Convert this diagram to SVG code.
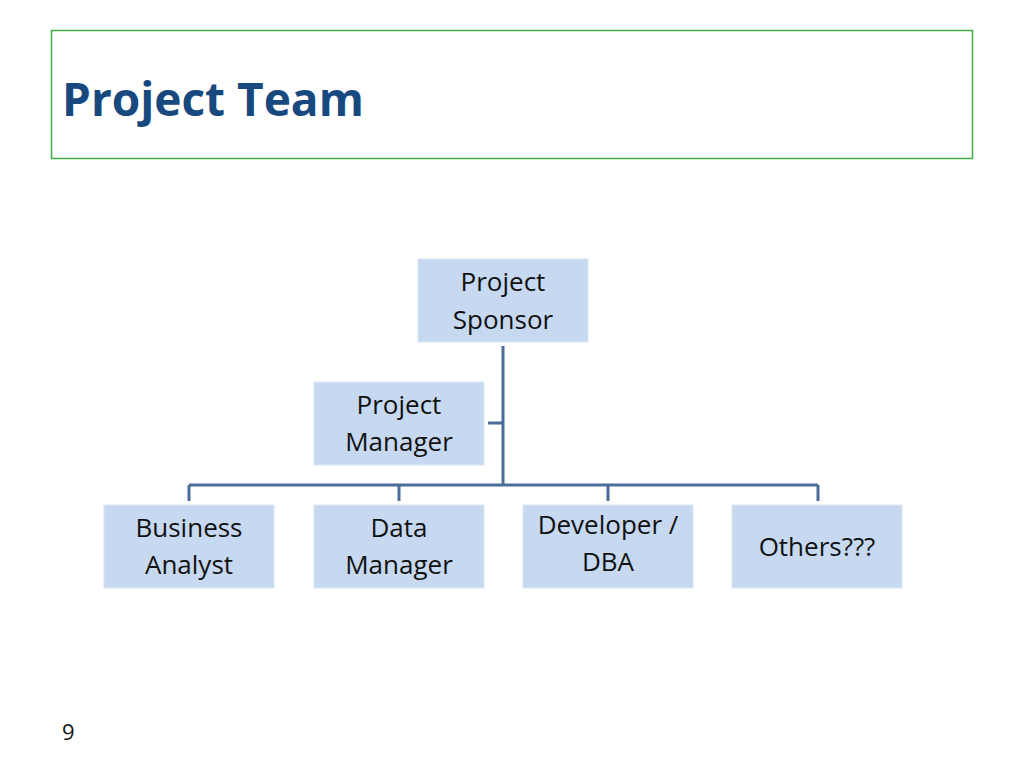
<svg xmlns="http://www.w3.org/2000/svg" width="1024" height="768" viewBox="0 0 1024 768">
<style>
.box{fill:#c6d9f0;stroke:#dbe6f4;stroke-width:1}
.t{font-family:"Open Sans","Liberation Sans",sans-serif;font-size:26px;fill:#111;text-anchor:middle}
.c{stroke:#4a6d9a;stroke-width:3;fill:none}
</style>
<rect width="1024" height="768" fill="#fff"/>
<rect x="51.5" y="30.5" width="921" height="128" fill="none" stroke="#3fae49" stroke-width="1.5"/>
<text x="62" y="116" font-family="'Open Sans','Liberation Sans',sans-serif" font-weight="bold" font-size="46" fill="#17497f">Project Team</text>
<text x="62" y="740" font-family="'Open Sans','Liberation Sans',sans-serif" font-size="22" fill="#111">9</text>
<g id="connectors">
<path class="c" d="M503,346V485M488,423H503M189,485H818M189,485V501M399,485V501M608,485V501M818,485V501"/>
</g>
<g id="sponsor"><rect class="box" x="418" y="259" width="170" height="83"/><text class="t" x="503" y="291">Project</text><text class="t" x="503" y="329">Sponsor</text></g>
<g id="manager"><rect class="box" x="314" y="382" width="170" height="83"/><text class="t" x="399" y="414">Project</text><text class="t" x="399" y="451">Manager</text></g>
<g id="ba"><rect class="box" x="104" y="505" width="170" height="83"/><text class="t" x="189" y="537">Business</text><text class="t" x="189" y="574">Analyst</text></g>
<g id="dm"><rect class="box" x="314" y="505" width="170" height="83"/><text class="t" x="399" y="537">Data</text><text class="t" x="399" y="574">Manager</text></g>
<g id="dev"><rect class="box" x="523" y="505" width="170" height="83"/><text class="t" x="608" y="534">Developer /</text><text class="t" x="608" y="571">DBA</text></g>
<g id="others"><rect class="box" x="732" y="505" width="170" height="83"/><text class="t" x="817" y="556">Others???</text></g>
</svg>
